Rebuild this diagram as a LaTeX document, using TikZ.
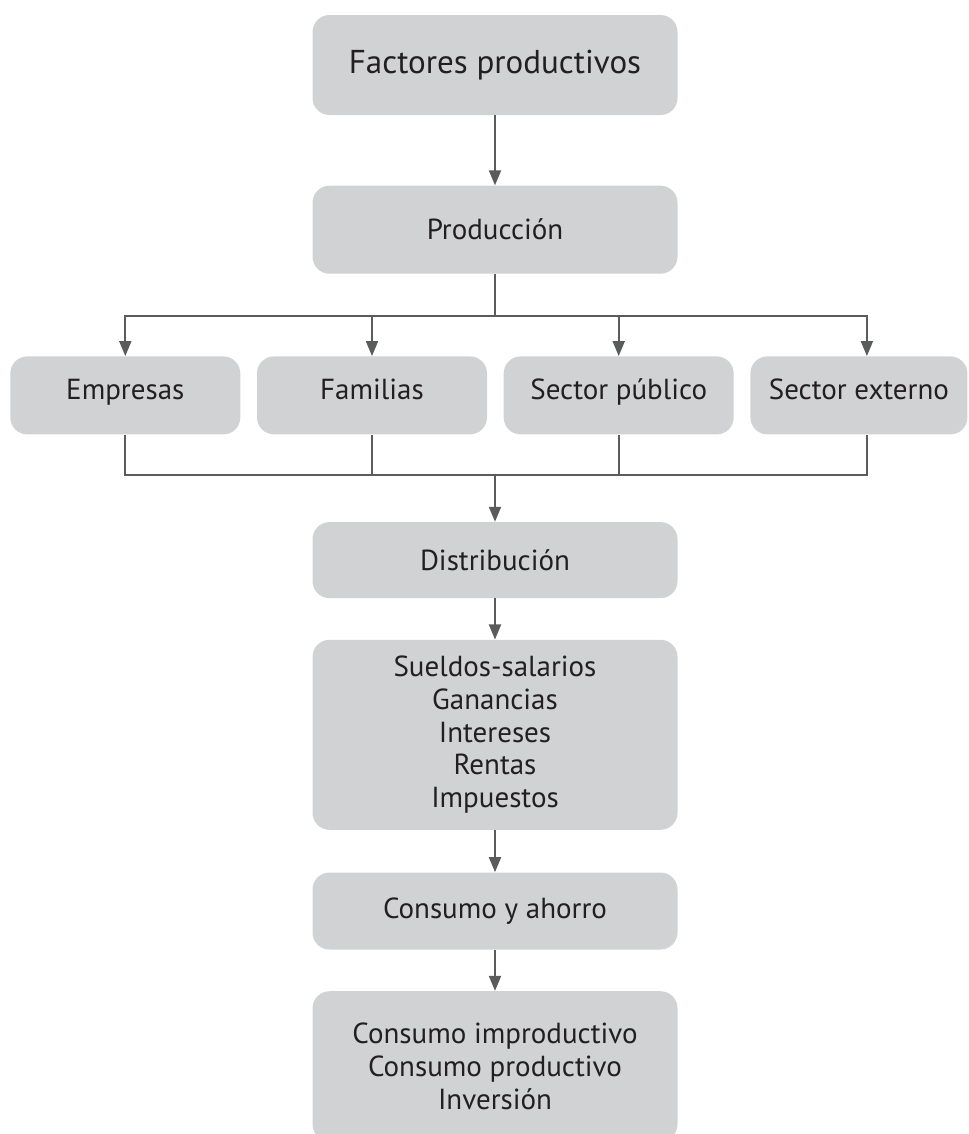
\documentclass[tikz,border=0pt]{standalone}
\usepackage{fontspec}
\setmainfont{PT Sans}
\usepackage{tikz}
\usetikzlibrary{arrows.meta, positioning, calc}
\usepackage{xcolor}
\definecolor{boxgray}{HTML}{D1D2D4}
\definecolor{linegray}{HTML}{5A5B5D}
\definecolor{inkdark}{HTML}{231F20}

\begin{document}
\begin{tikzpicture}[
        box/.style={fill=boxgray, rounded corners=0.34cm, align=center, text=inkdark, font=\fontsize{16.5}{18.6}\selectfont, minimum width=7.3cm, inner sep=0pt},
        rowbox/.style={box, minimum width=4.6cm, minimum height=1.56cm, text height=0.72em, text depth=0.22em},
        line/.style={draw=linegray, line width=1.1pt},
        arrow/.style={line, -{Triangle[length=0.3cm, width=0.24cm]}}
    ]
    \useasboundingbox (0,0) rectangle (19.36,-22.68);
    \node[box, minimum height=2cm, font=\fontsize{18.8}{22}\selectfont] (factores) at (9.9,-1.3) {Factores productivos};
    \node[box, minimum height=1.76cm, below=1.4cm of factores] (prod) {Producción};
    \coordinate[below=0.84cm of prod.south] (split);
    \node[rowbox, below=1.64cm of prod, xshift=-2.46cm] (familias) {Familias};
    \node[rowbox, left=0.32cm of familias] (empresas) {Empresas};
    \node[rowbox, right=0.32cm of familias] (publico) {Sector público};
    \node[rowbox, right=0.32cm of publico, minimum width=4.34cm] (externo) {Sector externo};
    \coordinate (join) at ([yshift=-0.8cm]familias.south -| prod.south);
    \node[box, minimum height=1.52cm, below=0.94cm of join] (dist) {Distribución};
    \node[box, minimum height=3.8cm, below=0.82cm of dist] (rentas) {Sueldos-salarios\\Ganancias\\Intereses\\Rentas\\Impuestos};
    \node[box, minimum height=1.54cm, below=0.84cm of rentas] (consumo) {Consumo y ahorro};
    \node[box, minimum height=3.0cm, below=0.82cm of consumo] (destino) {Consumo improductivo\\Consumo productivo\\Inversión};
    \draw[arrow] (factores) -- (prod);
    \draw[line] (prod) -- (split);
    \foreach \n in {empresas, familias, publico}
        \draw[arrow] (split) -| (\n.north);
    \draw[arrow] (split) -| ([xshift=0.16cm]externo.north);
    \foreach \n in {empresas, familias, publico}
        \draw[line] (\n.south) |- (join);
    \draw[line] ([xshift=0.16cm]externo.south) |- (join);
    \draw[arrow] (join) -- (dist);
    \draw[arrow] (dist) -- (rentas);
    \draw[arrow] (rentas) -- (consumo);
    \draw[arrow] (consumo) -- (destino);
\end{tikzpicture}
\end{document}
